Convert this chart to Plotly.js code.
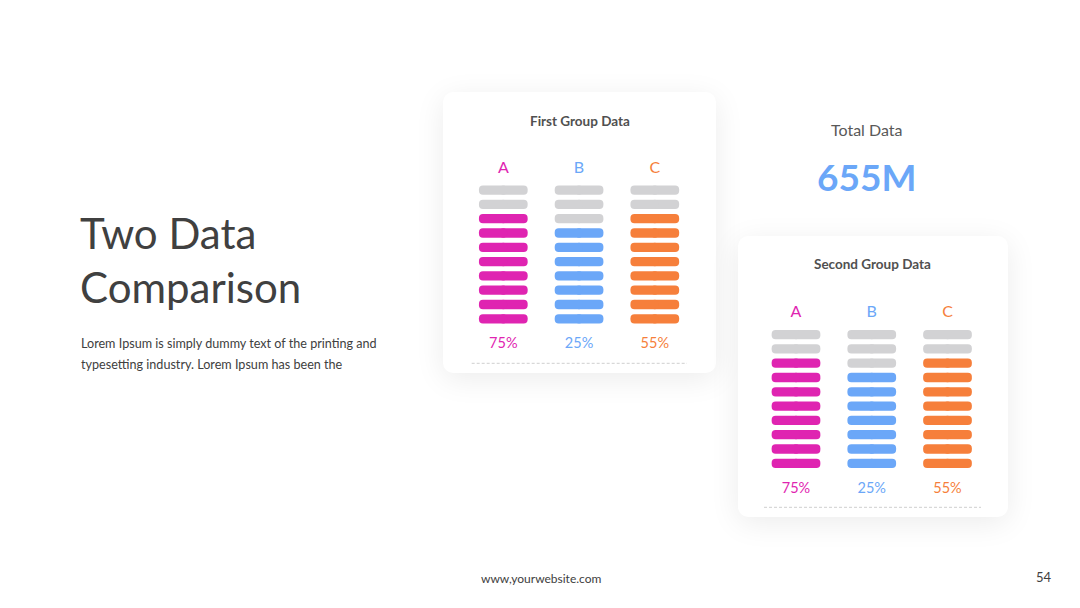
<!DOCTYPE html>
<html><head><meta charset="utf-8">
<script src="https://cdn.plot.ly/plotly-3.0.1.min.js"></script>
<style>
html,body{margin:0;padding:0;background:#fff;}
#wrap{position:relative;width:1080px;height:608px;overflow:hidden;background:#fff;}
.card{position:absolute;background:#fff;border-radius:10px;box-shadow:0 6px 30px rgba(0,0,0,0.08);}
#chart{position:absolute;left:0;top:0;width:1080px;height:608px;}
</style></head><body>
<div id="wrap">
<div class="card" style="left:443px;top:92px;width:273px;height:281px"></div>
<div class="card" style="left:738px;top:236px;width:270px;height:281px"></div>
<div id="chart"></div>
</div>
<script>
// ---- data ----
const categories = ['A', 'B', 'C'];
const segmentsPerColumn = 10;
const group1Filled = [8, 7, 8];
const group2Filled = [8, 7, 8];
const group1Percent = ['75%', '25%', '55%'];
const group2Percent = ['75%', '25%', '55%'];
const groupTitles = ['First Group Data', 'Second Group Data'];
const totalLabel = 'Total Data';
const totalValue = '655M';
const slideTitle = ['Two Data', 'Comparison'];
const bodyText = ['Lorem Ipsum is simply dummy text of the printing and', 'typesetting industry. Lorem Ipsum has been the'];
const footerText = 'www,yourwebsite.com';
const pageNumber = '54';

// ---- style ----
const seriesColors = ['#DF24B1', '#6BA7F8', '#F67F3B'];
const emptyColor = '#D2D2D4';
const FONT = 'Lato, "Open Sans", sans-serif';
const W = 1080, H = 608;
const geom = [
  {col0: 503.3, colStep: 75.75, row0: 318.8, rowStep: 14.3, titleX: 579.5, titleY: 120.7, dashY: 363.3, dashX: [471.7, 687]},
  {col0: 796.0, colStep: 75.75, row0: 463.3, rowStep: 14.3, titleX: 872.5, titleY: 264.0, dashY: 507.3, dashX: [764, 981]}
];
const pillLen = 0.643, pillThick = 0.65, labelRow = 10.5, pctRow = -1.8;

const px = v => v / W, py = v => 1 - v / H;
const groups = [
  {filled: group1Filled, pct: group1Percent},
  {filled: group2Filled, pct: group2Percent}
];

const traces = [];
const layout = {
  width: W, height: H, margin: {l: 0, r: 0, t: 0, b: 0},
  paper_bgcolor: 'rgba(0,0,0,0)', plot_bgcolor: 'rgba(0,0,0,0)',
  showlegend: false, barmode: 'overlay',
  font: {family: FONT, color: '#404040'},
  annotations: [], shapes: []
};

groups.forEach((g, gi) => {
  const G = geom[gi];
  const sx = gi === 0 ? '' : String(gi + 1);
  const xa = 'x' + sx, ya = 'y' + sx;
  const axBase = {visible: false, showgrid: false, zeroline: false, fixedrange: true};
  layout['xaxis' + sx] = Object.assign({}, axBase, {
    range: [-1, 3], anchor: ya,
    domain: [px(G.col0 - G.colStep), px(G.col0 + 3 * G.colStep)]
  });
  layout['yaxis' + sx] = Object.assign({}, axBase, {
    range: [-3, 13], anchor: xa,
    domain: [py(G.row0 + 3 * G.rowStep), py(G.row0 - 13 * G.rowStep)]
  });
  const ys = [], bases = [], cols = [];
  categories.forEach((c, ci) => {
    for (let r = 0; r < segmentsPerColumn; r++) {
      ys.push(r); bases.push(ci);
      cols.push(r < g.filled[ci] ? seriesColors[ci] : emptyColor);
    }
  });
  const ov = 0.05, half = pillLen / 2;
  [1, -1].forEach(dir => {
    traces.push({
      type: 'bar', orientation: 'h', xaxis: xa, yaxis: ya,
      y: ys, x: ys.map(() => dir * (half + ov)), base: bases.map(b => b - dir * ov),
      width: pillThick, marker: {color: cols, cornerradius: '50%', line: {width: 0}},
      hoverinfo: 'skip'
    });
  });
  traces.push({
    type: 'scatter', mode: 'text', xaxis: xa, yaxis: ya, cliponaxis: false,
    x: categories.map((c, i) => i), y: categories.map(() => labelRow),
    text: categories, textfont: {color: seriesColors, size: 16, family: FONT}, hoverinfo: 'skip'
  });
  traces.push({
    type: 'scatter', mode: 'text', xaxis: xa, yaxis: ya, cliponaxis: false,
    x: categories.map((c, i) => i), y: categories.map(() => pctRow),
    text: g.pct, textfont: {color: seriesColors, size: 14.5, family: FONT}, hoverinfo: 'skip'
  });
  layout.annotations.push({
    xref: 'paper', yref: 'paper', x: px(G.titleX), y: py(G.titleY), xanchor: 'center', yanchor: 'middle',
    text: '<b>' + groupTitles[gi] + '</b>', showarrow: false, font: {size: 13.5, color: '#505050', family: FONT}
  });
  layout.shapes.push({
    type: 'line', xref: 'paper', yref: 'paper', x0: px(G.dashX[0]), x1: px(G.dashX[1]), y0: py(G.dashY), y1: py(G.dashY),
    line: {color: '#CFCFCF', width: 1, dash: '3px,2px'}
  });
});

function ann(text, x, y, size, color, anchor, bold) {
  layout.annotations.push({
    xref: 'paper', yref: 'paper', x: px(x), y: py(y), xanchor: anchor, yanchor: 'middle',
    text: bold ? '<b>' + text + '</b>' : text, showarrow: false, font: {size: size, color: color, family: FONT}
  });
}
ann(slideTitle[0], 78, 233, 42, '#404040', 'left');
ann(slideTitle[1], 78, 287, 42, '#404040', 'left');
ann(bodyText[0], 79, 343.5, 12.6, '#404040', 'left');
ann(bodyText[1], 79, 364.5, 12.6, '#404040', 'left');
ann(totalLabel, 866, 129, 16, '#595959', 'center');
ann(totalValue, 866, 176, 37, '#6BA7F8', 'center', true);
ann(footerText, 541, 578, 12, '#404040', 'center');
ann(pageNumber, 1044, 577, 13, '#404040', 'center');

Plotly.newPlot('chart', traces, layout, {staticPlot: true, displayModeBar: false});
</script>
</body></html>
